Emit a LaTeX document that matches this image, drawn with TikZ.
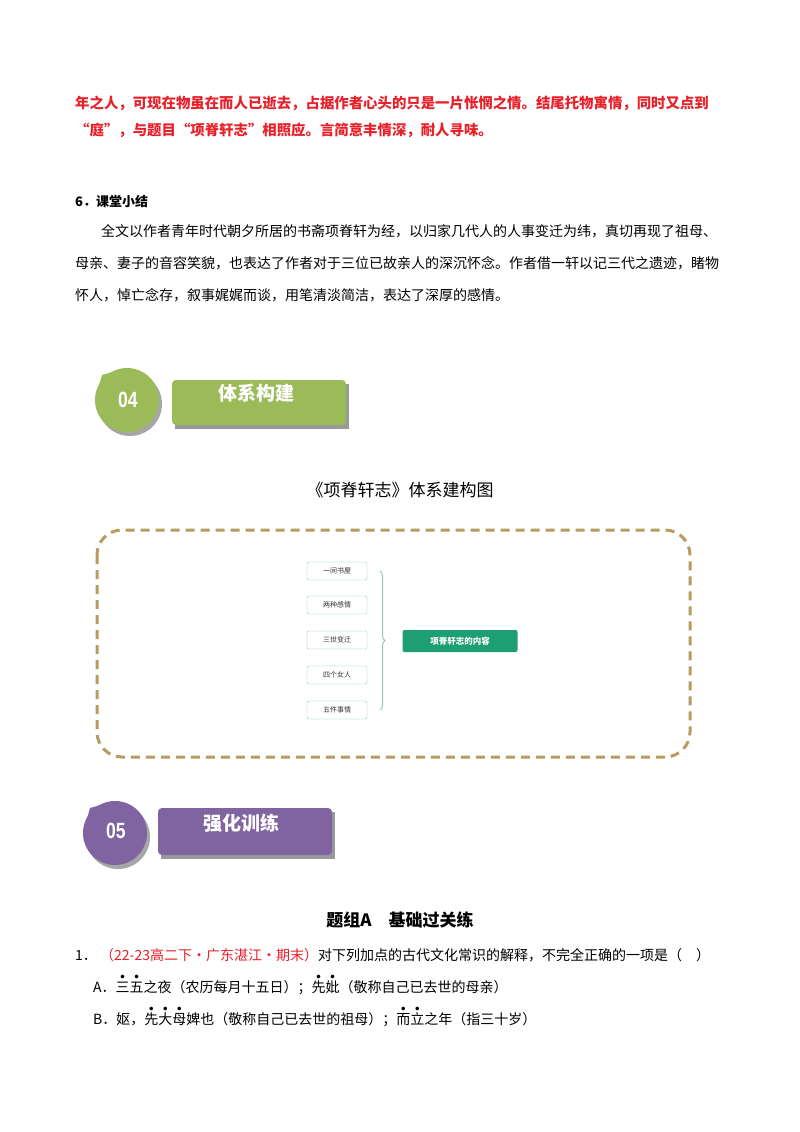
\documentclass[tikz,border=0pt]{standalone}
\usepackage{fontspec}
\setmainfont{Liberation Serif}
\newfontfamily\cjk{Noto Sans CJK SC}
\newfontfamily\sans{Liberation Sans}
\usetikzlibrary{decorations.pathreplacing}
\newcommand\zd[1]{\leavevmode\rlap{\makebox[1em]{\raisebox{0.95em}{\fontsize{4}{4}\selectfont●}}}#1}
\definecolor{rd}{HTML}{E8202A}
\definecolor{gr}{HTML}{9BBB59}
\definecolor{pu}{HTML}{8064A2}
\definecolor{tl}{HTML}{1E9E73}
\definecolor{bx}{HTML}{8FC9A6}
\definecolor{dsh}{HTML}{B89B5E}
\begin{document}
\begin{tikzpicture}[x=1pt,y=-1pt,
 line/.style={anchor=west,inner sep=0pt,font=\cjk\fontsize{14}{14}\selectfont},
 rl/.style={line,text=rd,font=\cjk\bfseries\fontsize{14.4}{14.4}\selectfont},
 sb/.style={draw=bx,fill=white,rounded corners=2pt,minimum width=60pt,minimum height=18pt,inner sep=0pt,font=\cjk\fontsize{7}{7}\selectfont,text=black!80},
 num/.style={text=white,font=\sans\bfseries\fontsize{22}{22}\selectfont,xscale=0.8},
 ttl/.style={text=white,font=\cjk\bfseries\fontsize{19}{19}\selectfont}]
\useasboundingbox[fill=white] (0,0) rectangle (800,1132);
\node[rl] (r1) at (75,103) {年之人，可现在物虽在而人已逝去，占据作者心头的只是一片怅惘之情。结尾托物寓情，同时又点到};
\node[rl] (r2) at (75,130) {“庭”，与题目“项脊轩志”相照应。言简意丰情深，耐人寻味。};
\node[line,font=\cjk\bfseries\fontsize{13}{13}\selectfont] (h6) at (75,202) {6．课堂小结};
\node[line] (p1) at (101,231) {全文以作者青年时代朝夕所居的书斋项脊轩为经，以归家几代人的人事变迁为纬，真切再现了祖母、};
\node[line] (p2) at (75,263) {母亲、妻子的音容笑貌，也表达了作者对于三位已故亲人的深沉怀念。作者借一轩以记三代之遗迹，睹物};
\node[line] (p3) at (75,295) {怀人，悼亡念存，叙事娓娓而谈，用笔清淡简洁，表达了深厚的感情。};
% header 04
\fill[black!35] (130,404) circle (32);
\fill[gr] (127,400) circle (32);
\fill[gr] (95,400) -- (102,375) -- (127,368) -- (127,400) -- cycle;
\node[num] (n04) at (128,400) {04};
\fill[black!40] (175,384) rectangle (349,429);
\fill[gr,rounded corners=4pt] (172,380) rectangle (346,425);
\node[ttl] (t04) at (256,393) {体系构建};
\node[font=\cjk\fontsize{17}{17}\selectfont] (ti) at (400,490) {《项脊轩志》体系建构图};
\draw[dsh,line width=3pt,dash pattern=on 9pt off 6pt,rounded corners=25pt] (97,530) rectangle (690,757);
\node[sb] (a1) at (337,571) {一间书屋};
\node[sb] (a2) at (337,605) {两种感情};
\node[sb] (a3) at (337,640) {三世变迁};
\node[sb] (a4) at (337,675) {四个女人};
\node[sb] (a5) at (337,710) {五件事情};
\draw[bx,line width=1pt,decorate,decoration={brace,amplitude=5pt}] (380,571) -- (380,710);
\node[fill=tl,rounded corners=2pt,text=white,minimum width=115pt,minimum height=22pt,inner sep=0pt,font=\cjk\bfseries\fontsize{8.5}{8.5}\selectfont] (m) at (460,641) {项脊轩志的内容};
% header 05
\fill[black!35] (118,837) circle (32);
\fill[pu] (115,833) circle (32);
\fill[pu] (83,833) -- (90,808) -- (115,801) -- (115,833) -- cycle;
\node[num] (n05) at (116,831) {05};
\fill[black!40] (161,812) rectangle (335,859);
\fill[pu,rounded corners=4pt] (158,808) rectangle (332,855);
\node[ttl] (t05) at (241,823) {强化训练};
\node[font=\cjk\bfseries\fontsize{17}{17}\selectfont] (tz) at (400,920) {题组A\quad 基础过关练};
\node[line] (q1) at (75,955) {1．\ \textcolor{rd}{（22-23高二下·广东湛江·期末）}对下列加点的古代文化常识的解释，不完全正确的一项是（　）};
\node[line] (qa) at (93,985) {A．\zd{三}\zd{五}之夜（农历每月十五日）；\zd{先}\zd{妣}（敬称自己已去世的母亲）};
\node[line] (qb) at (93,1017) {B．妪，\zd{先}\zd{大}\zd{母}婢也（敬称自己已去世的祖母）；\zd{而}\zd{立}之年（指三十岁）};
\end{tikzpicture}
\end{document}
